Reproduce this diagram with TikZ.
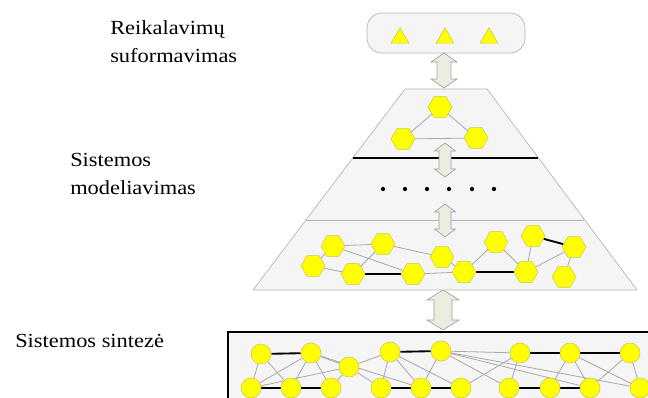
\documentclass[tikz,border=0pt]{standalone}
\usepackage{fontspec}
\setmainfont{Liberation Serif}
\newfontfamily\lblfont[FakeStretch=1.12]{Liberation Serif}
\usetikzlibrary{shapes.geometric}
\definecolor{panel}{HTML}{F5F5F5}
\definecolor{panelline}{HTML}{B4B4B4}
\definecolor{hexy}{HTML}{FFFF00}
\definecolor{hexline}{HTML}{C8C850}
\definecolor{edgegray}{HTML}{A8A8A8}
\definecolor{arrfill}{HTML}{ECECE0}
\definecolor{arrline}{HTML}{A0A0A0}
\pgfdeclarelayer{panels}
\pgfdeclarelayer{links}
\pgfsetlayers{panels,links,main}
\tikzset{
  hexnode/.style={regular polygon, regular polygon sides=6, minimum size=18pt, inner sep=0pt, fill=hexy, draw=hexline, line width=0.4pt},
  cirnode/.style={circle, minimum size=15pt, inner sep=0pt, fill=hexy, draw=hexline, line width=0.4pt},
  trinode/.style={regular polygon, regular polygon sides=3, minimum size=15.5pt, inner sep=0pt, fill=hexy, draw=hexline, line width=0.4pt},
  thinlink/.style={draw=edgegray, line width=0.6pt},
  thicklink/.style={draw=black, line width=1.4pt},
  dotnode/.style={circle, fill=black, inner sep=0pt, minimum size=3.2pt},
  blockarrow/.style={fill=arrfill, draw=arrline, line width=0.5pt, line join=miter},
  panelfill/.style={fill=panel, draw=panelline, line width=0.5pt},
  lbl/.style={font=\lblfont\fontsize{15}{21}\selectfont, inner sep=0pt, align=left, anchor=base west},
}
% vertical double block arrow: x, ytop, ybottom, shaft half width, head half width, head length
\newcommand{\vblockarrow}[6]{%
  \path[blockarrow] (#1,#2) -- ({#1+#5},{#2+#6}) -- ({#1+#4},{#2+#6}) -- ({#1+#4},{#3-#6})
    -- ({#1+#5},{#3-#6}) -- (#1,#3) -- ({#1-#5},{#3-#6}) -- ({#1-#4},{#3-#6})
    -- ({#1-#4},{#2+#6}) -- ({#1-#5},{#2+#6}) -- cycle;}
\begin{document}
\begin{tikzpicture}[x=0.75pt,y=-0.75pt]
\useasboundingbox (0,0) rectangle (648,398);

% ---------- panels ----------
\begin{pgfonlayer}{panels}
  \path[panelfill, rounded corners=15*0.75pt] (367,13) rectangle (525,53);
  \path[panelfill] (405,89) -- (487,89) -- (637,290) -- (253,290) -- cycle;
  \draw[draw=panelline, line width=0.5pt] (306,220) -- (584,220);
  \draw[black, line width=1.5pt] (353,158) -- (538,158);
  \path[fill=panel, draw=black, line width=1.5pt] (228,332) rectangle (665,415);
\end{pgfonlayer}

% ---------- labels (base anchor = baseline of last line) ----------
\node[lbl] (lab1) at (110,63) {Reikalavimų\\suformavimas};
\node[lbl] (lab2) at (70,195) {Sistemos\\modeliavimas};
\node[lbl] (lab3) at (15,347) {Sistemos sintezė};

% ---------- requirements ----------
\node[trinode] (r1) at (400,38) {};
\node[trinode] (r2) at (445,38) {};
\node[trinode] (r3) at (489,38) {};

% ---------- upper model ----------
\node[hexnode] (t1) at (440,107) {};
\node[hexnode] (t2) at (403,139) {};
\node[hexnode] (t3) at (476,138) {};

% dots
\foreach \i/\x in {1/383,2/405,3/427,4/449,5/472,6/494}
  \node[dotnode] (d\i) at (\x,189) {};

% ---------- lower model ----------
\node[hexnode] (A) at (333,246) {};
\node[hexnode] (B) at (383,244) {};
\node[hexnode] (C) at (442,257) {};
\node[hexnode] (D) at (496,242) {};
\node[hexnode] (E) at (533,236) {};
\node[hexnode] (F) at (574,247) {};
\node[hexnode] (G) at (313,266) {};
\node[hexnode] (H) at (353,274) {};
\node[hexnode] (I) at (413,274) {};
\node[hexnode] (J) at (464,272) {};
\node[hexnode] (K) at (526,272) {};
\node[hexnode] (L) at (564,277) {};

% ---------- synthesis ----------
\node[cirnode] (P1) at (261,354) {};
\node[cirnode] (P2) at (311,353) {};
\node[cirnode] (M)  at (349,367) {};
\node[cirnode] (R1) at (390,352) {};
\node[cirnode] (R2) at (441,351) {};
\node[cirnode] (S1) at (520,353) {};
\node[cirnode] (S2) at (570,353) {};
\node[cirnode] (S3) at (630,353) {};
\node[cirnode] (Q1) at (251,388) {};
\node[cirnode] (Q2) at (291,388) {};
\node[cirnode] (Q3) at (331,388) {};
\node[cirnode] (Q4) at (381,388) {};
\node[cirnode] (Q5) at (421,388) {};
\node[cirnode] (Q6) at (461,388) {};
\node[cirnode] (Q7) at (509,388) {};
\node[cirnode] (Q8) at (550,388) {};
\node[cirnode] (Q9) at (590,388) {};
\node[cirnode] (Q10) at (640,388) {};

% ---------- links ----------
\begin{pgfonlayer}{links}
  \foreach \a/\b in {t1/t2,t1/t3,t2/t3}
    \path[thinlink] (\a) -- (\b);
  \foreach \a/\b in {A/B,A/G,G/H,A/I,B/H,B/C,I/J,C/J,J/D,D/K,E/K,K/F,F/L}
    \path[thinlink] (\a) -- (\b);
  \foreach \a/\b in {H/I,J/K,E/F}
    \path[thicklink] (\a) -- (\b);
  \foreach \a/\b in {P1/Q1,P1/Q2,P2/Q1,P2/Q2,P2/Q3,P2/M,Q1/M,M/Q3,M/Q4,M/R1,P2/Q5,
                     R1/Q4,R1/Q5,R1/Q6,R2/Q5,R2/Q7,R2/Q9,R2/Q10,R2/S1,S1/Q6,S1/Q7,
                     S2/Q8,S2/Q9,S2/Q10,S3/Q9,S3/Q10}
    \path[thinlink] (\a) -- (\b);
  \foreach \a/\b in {P1/P2,R1/R2,S1/S2,S2/S3,Q1/Q2,Q2/Q3,Q4/Q5,Q5/Q6,Q7/Q8,Q8/Q9}
    \path[thicklink] (\a) -- (\b);
\end{pgfonlayer}

% ---------- block arrows ----------
\vblockarrow{444}{53}{88}{7}{13}{9}
\vblockarrow{445}{143}{177}{6}{10.5}{8}
\vblockarrow{445}{204}{237}{6}{10.5}{8}
\vblockarrow{443}{290}{330}{9}{16}{10}

\end{tikzpicture}
\end{document}
